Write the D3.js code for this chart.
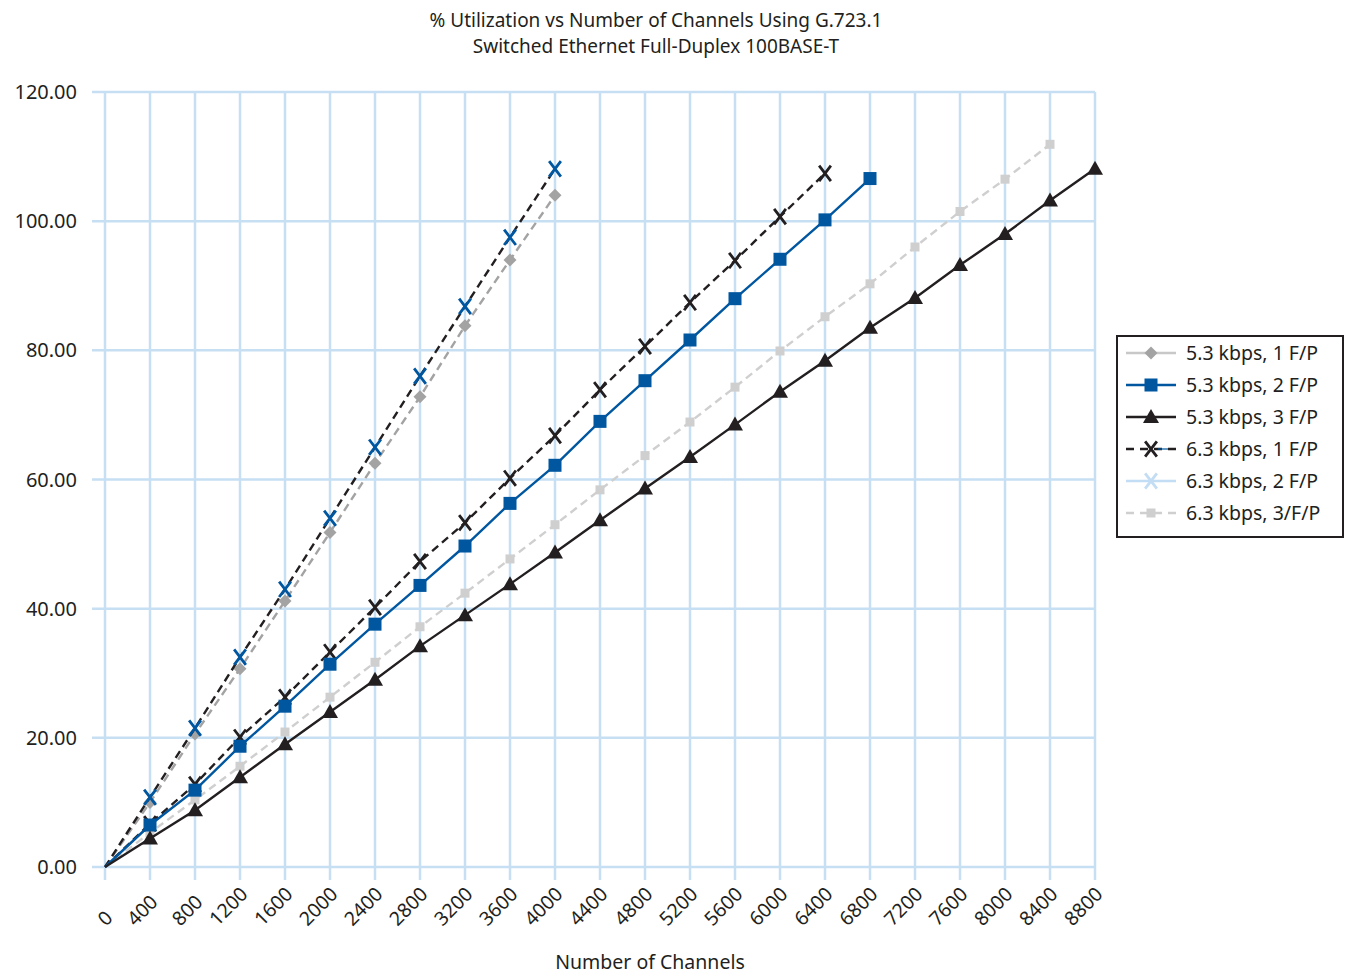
<!DOCTYPE html>
<html><head><meta charset="utf-8">
<script src="https://cdn.jsdelivr.net/npm/d3@7"></script>
<style>
body{margin:0;background:#fff}
text{font-family:"Noto Sans",sans-serif;fill:#231f20}
</style>
</head><body>
<svg id="c" width="1348" height="974"></svg>
<script>
const titleLines = ["% Utilization vs Number of Channels Using G.723.1", "Switched Ethernet Full-Duplex 100BASE-T"];
const xTitle = "Number of Channels";
const channels = [0,400,800,1200,1600,2000,2400,2800,3200,3600,4000,4400,4800,5200,5600,6000,6400,6800,7200,7600,8000,8400,8800];
const yTicks = [0,20,40,60,80,100,120];
const seriesNames = ["5.3 kbps, 1 F/P","5.3 kbps, 2 F/P","5.3 kbps, 3 F/P","6.3 kbps, 1 F/P","6.3 kbps, 2 F/P","6.3 kbps, 3/F/P"];
const s53_1 = [0,10.0,20.6,30.7,41.2,51.8,62.5,72.8,83.8,94.0,104.0];
const s53_2 = [0,6.5,11.9,18.7,24.9,31.4,37.6,43.6,49.7,56.3,62.2,69.0,75.3,81.6,88.0,94.1,100.2,106.6];
const s53_3 = [0,4.4,8.8,13.9,19.0,24.0,29.0,34.2,39.0,43.8,48.7,53.7,58.6,63.5,68.5,73.6,78.4,83.5,88.1,93.2,98.0,103.2,108.1];
const s63_1 = [0,10.8,21.5,32.5,43.0,54.0,65.0,76.0,86.8,97.5,108.1];
const s63_2 = [0,6.7,12.8,20.1,26.3,33.3,40.2,47.3,53.3,60.2,66.8,73.9,80.6,87.4,93.9,100.7,107.4];
const s63_3 = [0,5.3,10.4,15.6,20.9,26.3,31.7,37.2,42.4,47.7,53.0,58.4,63.7,68.9,74.3,79.9,85.2,90.3,96.0,101.5,106.5,111.9];

const C = {blue:"#0057a0", black:"#231f20", gray:"#a3a3a3", lgray:"#cfcfcf", lblue:"#c2ddf4", grid:"#c6dff3"};

const svg = d3.select("#c");
const x = d3.scaleLinear().domain([0,8800]).range([105,1095]);
const y = d3.scaleLinear().domain([0,120]).range([867,92]);

// title
svg.selectAll("text.title").data(titleLines).join("text")
  .attr("x",656).attr("y",(d,i)=>27+i*26).attr("text-anchor","middle")
  .style("font-size","19px").text(d=>d);

// grid
const g = svg.append("g");
g.selectAll("line.h").data(yTicks).join("line")
  .attr("x1",92).attr("x2",1095).attr("y1",d=>y(d)).attr("y2",d=>y(d))
  .attr("stroke",C.grid).attr("stroke-width",2.5);
g.selectAll("line.v").data(channels).join("line")
  .attr("x1",d=>x(d)).attr("x2",d=>x(d)).attr("y1",92).attr("y2",880)
  .attr("stroke",C.grid).attr("stroke-width",2.5);

// y labels
svg.selectAll("text.yl").data(yTicks).join("text")
  .attr("x",77).attr("y",d=>y(d)+7).attr("text-anchor","end")
  .style("font-size","20px").text(d=>d.toFixed(2));

// x labels
const xl = svg.selectAll("text.xl").data(channels).join("text")
  .style("font-size","19.5px").attr("text-anchor","start").text(d=>d);
xl.each(function(d){
  const w = this.getComputedTextLength();
  const px = x(d) + 9 - 0.707*w, py = 927;
  d3.select(this).attr("transform",`translate(${px},${py}) rotate(-45)`);
});

// x title
svg.append("text").attr("x",650).attr("y",969).attr("text-anchor","middle")
  .style("font-size","19.5px").text(xTitle);

const line = d3.line().x((d,i)=>x(channels[i])).y(d=>y(d));

function xMark(sel, cx, cy, col, s){
  sel.append("path").attr("d",`M${cx-s*0.42},${cy-s*0.55}L${cx+s*0.42},${cy+s*0.55}M${cx+s*0.42},${cy-s*0.55}L${cx-s*0.42},${cy+s*0.55}`)
    .attr("stroke",col).attr("stroke-width",2.8).attr("fill","none");
}
function marker(sel, type, cx, cy, col){
  if(type==="diamond") sel.append("path").attr("d",`M${cx},${cy-6.5}L${cx+6.5},${cy}L${cx},${cy+6.5}L${cx-6.5},${cy}Z`).attr("fill",col);
  else if(type==="square") sel.append("rect").attr("x",cx-6.5).attr("y",cy-6.5).attr("width",13).attr("height",13).attr("fill",col);
  else if(type==="smallsq") sel.append("rect").attr("x",cx-4.5).attr("y",cy-4.5).attr("width",9).attr("height",9).attr("fill",col);
  else if(type==="tri") sel.append("path").attr("d",`M${cx},${cy-8}L${cx+8},${cy+6}L${cx-8},${cy+6}Z`).attr("fill",col);
  else if(type==="x") xMark(sel,cx,cy,col,14);
}

const plotSeries = [
  {data:s53_1, lc:C.gray, dash:"8,5", mk:"diamond", mc:C.gray},
  {data:s63_1, lc:C.black, dash:"8,5", mk:"x", mc:C.blue},
  {data:s63_2, lc:C.black, dash:"8,5", mk:"x", mc:C.black},
  {data:s63_3, lc:C.lgray, dash:"8,5", mk:"smallsq", mc:C.lgray},
  {data:s53_2, lc:C.blue, dash:null, mk:"square", mc:C.blue},
  {data:s53_3, lc:C.black, dash:null, mk:"tri", mc:C.black},
];
plotSeries.forEach(s=>{
  const gg = svg.append("g");
  gg.append("path").attr("d",line(s.data)).attr("fill","none").attr("stroke",s.lc)
    .attr("stroke-width",2.4).attr("stroke-dasharray",s.dash);
  s.data.forEach((v,i)=>{ if(i>0) marker(gg,s.mk,x(channels[i]),y(v),s.mc); });
});

// legend
const lg = svg.append("g");
lg.append("rect").attr("x",1117).attr("y",336).attr("width",226).attr("height",201)
  .attr("fill","#fff").attr("stroke",C.black).attr("stroke-width",2);
const legItems = [
  {lc:"#c8c8c8", dash:null, mk:"diamond", mc:C.gray},
  {lc:C.blue, dash:null, mk:"square", mc:C.blue},
  {lc:C.black, dash:null, mk:"tri", mc:C.black},
  {lc:C.black, dash:"8,6", mk:"x", mc:C.black, inner:C.blue},
  {lc:C.lblue, dash:null, mk:"x", mc:C.lblue},
  {lc:C.lgray, dash:"8,6", mk:"smallsq", mc:C.lgray},
];
legItems.forEach((it,i)=>{
  const cy = 353 + i*32;
  lg.append("line").attr("x1",1126).attr("x2",1176).attr("y1",cy).attr("y2",cy)
    .attr("stroke",it.lc).attr("stroke-width",2.4).attr("stroke-dasharray",it.dash);
  if(it.inner) lg.append("line").attr("x1",1158).attr("x2",1168).attr("y1",cy).attr("y2",cy).attr("stroke",it.inner).attr("stroke-width",1.2);
  marker(lg,it.mk,1151,cy,it.mc);
  lg.append("text").attr("x",1186).attr("y",cy+7).style("font-size","19.5px").text(seriesNames[i]);
});
</script>
</body></html>
